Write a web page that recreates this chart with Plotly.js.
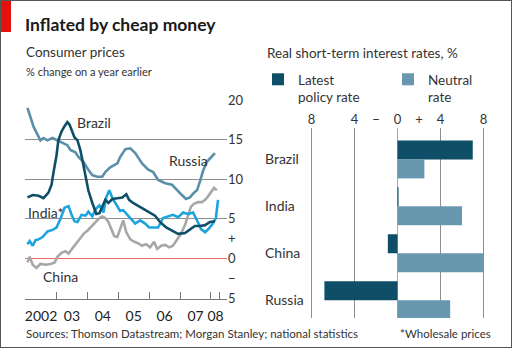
<!DOCTYPE html>
<html>
<head>
<meta charset="utf-8">
<script src="https://cdn.plot.ly/plotly-3.0.1.min.js"></script>
<style>html,body{margin:0;padding:0;background:#fff;}#chart{width:512px;height:348px;}</style>
</head>
<body>
<div id="chart"></div>
<script>
// ---- Left panel: consumer prices, % change on a year earlier ----
const russiaX = [2002.06,2002.16,2002.26,2002.39,2002.48,2002.58,2002.71,2002.87,2003.03,2003.19,2003.35,2003.45,2003.61,2003.71,2003.87,2004.03,2004.16,2004.32,2004.48,2004.58,2004.74,2004.97,2005.06,2005.23,2005.39,2005.55,2005.77,2005.97,2006.13,2006.29,2006.52,2006.74,2006.90,2007.06,2007.19,2007.32,2007.45,2007.55,2007.65,2007.74,2007.87,2008.03,2008.13];
const russiaY = [19.0,17.7,16.6,15.6,14.9,15.2,14.9,15.2,14.9,14.7,14.3,13.7,13.4,12.8,12.2,11.2,10.5,10.3,10.3,10.9,11.5,12.0,12.8,13.8,13.9,13.3,12.0,11.2,10.9,9.9,9.5,9.3,8.6,8.0,7.5,7.7,8.3,8.6,9.8,11.0,12.2,12.8,13.3];

const brazilX = [2002.06,2002.23,2002.42,2002.58,2002.74,2002.84,2002.90,2003.00,2003.06,2003.16,2003.26,2003.35,2003.42,2003.48,2003.58,2003.68,2003.77,2003.84,2003.94,2004.03,2004.16,2004.29,2004.39,2004.48,2004.58,2004.68,2004.81,2004.97,2005.13,2005.26,2005.35,2005.48,2005.71,2005.87,2006.03,2006.19,2006.35,2006.55,2006.74,2006.94,2007.16,2007.32,2007.48,2007.65,2007.81,2007.97,2008.13];
const brazilY = [7.7,8.0,7.9,7.6,8.3,9.3,10.8,13.0,14.9,16.0,16.7,17.2,16.9,16.2,15.3,14.9,13.7,12.4,10.5,8.6,7.0,5.6,5.7,6.5,7.4,7.0,7.5,7.6,7.7,8.1,7.4,7.0,6.5,6.2,5.8,5.4,4.6,3.9,3.5,3.1,3.2,3.6,4.1,4.1,4.2,4.6,4.7];

const indiaX = [2002.06,2002.13,2002.23,2002.32,2002.42,2002.55,2002.71,2002.87,2003.00,2003.13,2003.26,2003.39,2003.48,2003.58,2003.68,2003.81,2003.94,2004.03,2004.16,2004.26,2004.39,2004.52,2004.61,2004.71,2004.81,2004.94,2005.06,2005.16,2005.26,2005.39,2005.55,2005.71,2005.87,2006.00,2006.16,2006.29,2006.45,2006.61,2006.77,2006.94,2007.10,2007.26,2007.42,2007.55,2007.68,2007.81,2007.94,2008.06,2008.16,2008.23];
const indiaY = [1.8,2.2,1.6,2.3,2.4,2.7,3.4,3.6,3.9,5.0,6.4,6.6,5.6,4.7,4.6,5.5,5.4,5.9,5.3,6.2,6.7,5.8,7.7,8.6,7.6,6.8,6.0,6.1,5.6,5.1,4.4,4.8,4.4,3.9,3.9,3.9,5.1,5.3,5.5,5.2,5.8,5.6,5.8,4.8,3.7,3.3,3.8,4.4,5.1,7.4];

const chinaX = [2002.06,2002.13,2002.23,2002.35,2002.48,2002.65,2002.81,2002.94,2003.03,2003.16,2003.29,2003.39,2003.52,2003.65,2003.77,2003.90,2004.00,2004.13,2004.26,2004.39,2004.48,2004.58,2004.68,2004.77,2004.87,2004.97,2005.06,2005.16,2005.26,2005.39,2005.52,2005.65,2005.77,2005.90,2006.03,2006.16,2006.26,2006.39,2006.52,2006.65,2006.77,2006.90,2007.03,2007.16,2007.26,2007.35,2007.45,2007.58,2007.71,2007.81,2007.90,2008.00,2008.10,2008.19];
const chinaY = [-0.5,0.2,-0.8,-1.2,-0.7,-0.8,-0.7,-0.5,0.2,0.7,0.9,0.6,1.3,2.0,2.6,3.2,3.5,4.0,4.6,5.1,5.3,5.1,4.6,3.7,2.8,2.7,3.6,4.8,3.3,2.4,2.1,1.9,1.6,1.8,1.4,2.1,1.2,1.6,1.7,1.4,1.6,2.3,3.1,4.2,5.5,6.5,6.9,7.1,7.1,7.4,7.8,8.4,8.9,8.6];

const yearTicks = [2002,2003,2004,2005,2006,2007,2008,2008.29];
const yearLabelPos = [2002.5,2003.5,2004.5,2005.5,2006.5,2007.5,2008.15];
const yearLabels = ['2002','03','04','05','06','07','08'];
const leftGridVals = [20,15,10,5,-5];
const leftLabelVals = [20,15,10,5,2.5,0,-2.5,-5];
const leftLabelText = ['20','15','10','5','+','0','\u2212','5'];

// ---- Right panel: real short-term interest rates, % ----
const countries = ['Brazil','India','China','Russia'];
const latestPolicy = [7.0, 0.1, -0.9, -6.8];
const neutralRate = [2.5, 6.0, 8.0, 4.9];
const rateGridVals = [-8,-4,4,8];
const rateLabelVals = [-8,-4,-2,0,2,4,8];
const rateLabelText = ['8','4','\u2212','0','+','4','8'];

const FONT = 'Lato, Roboto, sans-serif';
const C = {dark:'#0e4f67', mid:'#6897b0', russia:'#5a8fa9', india:'#1ea4dd', china:'#a7a7a7', grid:'#8e8e8e', red:'#ee6a6a', text:'#222'};

const W = 512, H = 348;
const px = v => v / W;
const py = v => 1 - v / H;

const lineStyle = (c) => ({color:c, width:2.6, shape:'linear'});
const traces = [
  {type:'scatter', mode:'lines', x:russiaX, y:russiaY, line:lineStyle(C.russia), xaxis:'x', yaxis:'y', showlegend:false, name:'Russia'},
  {type:'scatter', mode:'lines', x:chinaX, y:chinaY, line:lineStyle(C.china), xaxis:'x', yaxis:'y', showlegend:false, name:'China'},
  {type:'scatter', mode:'lines', x:indiaX, y:indiaY, line:lineStyle(C.india), xaxis:'x', yaxis:'y', showlegend:false, name:'India'},
  {type:'scatter', mode:'lines', x:brazilX, y:brazilY, line:lineStyle(C.dark), xaxis:'x', yaxis:'y', showlegend:false, name:'Brazil'},
  {type:'bar', orientation:'h', y:countries, x:latestPolicy, marker:{color:C.dark}, xaxis:'x2', yaxis:'y2', name:'Latest<br>policy rate', legend:'legend'},
  {type:'bar', orientation:'h', y:countries, x:neutralRate, marker:{color:C.mid}, xaxis:'x2', yaxis:'y2', name:'Neutral<br>rate', legend:'legend2'}
];

const leftXRange = [2001.98, 2008.52];
const rightXRange = [(262-397.5)/10.75, (500-397.5)/10.75];

const legendBase = {orientation:'v', xanchor:'left', yanchor:'top', valign:'top', font:{size:13.5, color:'#333'}, bgcolor:'rgba(0,0,0,0)'};

const layout = {
  width: W, height: H,
  margin: {l:0, r:0, t:0, b:0},
  paper_bgcolor: '#fff', plot_bgcolor: 'rgba(0,0,0,0)',
  font: {family: FONT, size: 13, color: C.text},
  showlegend: true,
  barmode: 'group', bargap: 0.19, bargroupgap: 0,
  title: {text:'<b>Inflated by cheap money</b>', x: px(25), xanchor:'left', xref:'paper', y: py(25), yanchor:'middle', yref:'paper',
          font:{family:FONT, size:17.5, color:'#1a1a1a'}},
  legend: Object.assign({x: px(258), y: py(64)}, legendBase),
  legend2: Object.assign({x: px(388), y: py(64)}, legendBase),
  xaxis: {domain:[px(25), px(227)], range:leftXRange, anchor:'y', tickvals:yearLabelPos, ticktext:yearLabels,
          ticks:'inside', ticklen:0.5, tickcolor:'rgba(0,0,0,0)', tickwidth:1,
          ticklabelstandoff:4, tickfont:{size:14, color:'#222'},
          minor:{tickvals:yearTicks, ticks:'inside', ticklen:7, tickcolor:'#777', tickwidth:1, showgrid:false},
          showline:true, linecolor:'#777', linewidth:1, showgrid:false, zeroline:false, layer:'above traces'},
  yaxis: {domain:[py(298.8), py(99.2)], range:[-5.1,20.1], anchor:'x', side:'right', tickvals:leftLabelVals, ticktext:leftLabelText,
          tickfont:{size:13, color:'#333'}, showgrid:false, ticks:'',
          minor:{tickvals:leftGridVals, showgrid:true, gridcolor:C.grid, gridwidth:1, ticks:''},
          zeroline:true, zerolinecolor:C.red, zerolinewidth:1.5},
  xaxis2: {domain:[px(262), px(500)], range:rightXRange, anchor:'y2', side:'top', tickvals:rateLabelVals, ticktext:rateLabelText,
           showgrid:false, ticks:'', tickfont:{size:13, color:'#333'},
           minor:{tickvals:rateGridVals, showgrid:true, gridcolor:C.grid, gridwidth:1, ticks:''},
           zeroline:true, zerolinecolor:'#f08a8a', zerolinewidth:1.5},
  yaxis2: {domain:[py(318), py(128)], type:'category', range:[3.38,-0.67], anchor:'x2', ticks:'', ticklabelposition:'inside',
           showgrid:false, zeroline:false, showline:false, tickfont:{size:14, color:'#333'}},
  annotations: [
    {text:'Consumer prices', xref:'paper', yref:'paper', x:px(24), y:py(52), xanchor:'left', yanchor:'middle', showarrow:false, font:{size:13.5, color:'#333'}},
    {text:'% change on a year earlier', xref:'paper', yref:'paper', x:px(24), y:py(71), xanchor:'left', yanchor:'middle', showarrow:false, font:{size:11, color:'#333'}},
    {text:'Real short-term interest rates, %', xref:'paper', yref:'paper', x:px(265), y:py(53), xanchor:'left', yanchor:'middle', showarrow:false, font:{size:13.5, color:'#333'}},
    {text:'Sources: Thomson Datastream; Morgan Stanley; national statistics', xref:'paper', yref:'paper', x:px(24), y:py(333), xanchor:'left', yanchor:'middle', showarrow:false, font:{size:11.5, color:'#333'}},
    {text:'*Wholesale prices', xref:'paper', yref:'paper', x:px(398), y:py(333), xanchor:'left', yanchor:'middle', showarrow:false, font:{size:11.5, color:'#333'}},
    {text:'Brazil', xref:'x', yref:'y', x:2003.61, y:17.2, xanchor:'left', yanchor:'middle', showarrow:false, font:{size:14, color:'#333'}},
    {text:'Russia', xref:'x', yref:'y', x:2006.58, y:12.4, xanchor:'left', yanchor:'middle', showarrow:false, font:{size:14, color:'#333'}},
    {text:'India*', xref:'x', yref:'y', x:2002.0, y:5.8, xanchor:'left', yanchor:'middle', showarrow:false, font:{size:14, color:'#333'}},
    {text:'China', xref:'x', yref:'y', x:2002.5, y:-2.3, xanchor:'left', yanchor:'middle', showarrow:false, font:{size:14, color:'#333'}}
  ],
  shapes: [
    {type:'rect', xref:'paper', yref:'paper', x0:0, x1:px(11), y0:py(32), y1:1, fillcolor:'#e3120b', line:{width:0}},
    {type:'rect', xref:'paper', yref:'paper', x0:0, x1:1, y0:0, y1:1, line:{color:'#555', width:2}, fillcolor:'rgba(0,0,0,0)'}
  ]
};

Plotly.newPlot('chart', traces, layout, {staticPlot:true, displayModeBar:false});
</script>
</body>
</html>
